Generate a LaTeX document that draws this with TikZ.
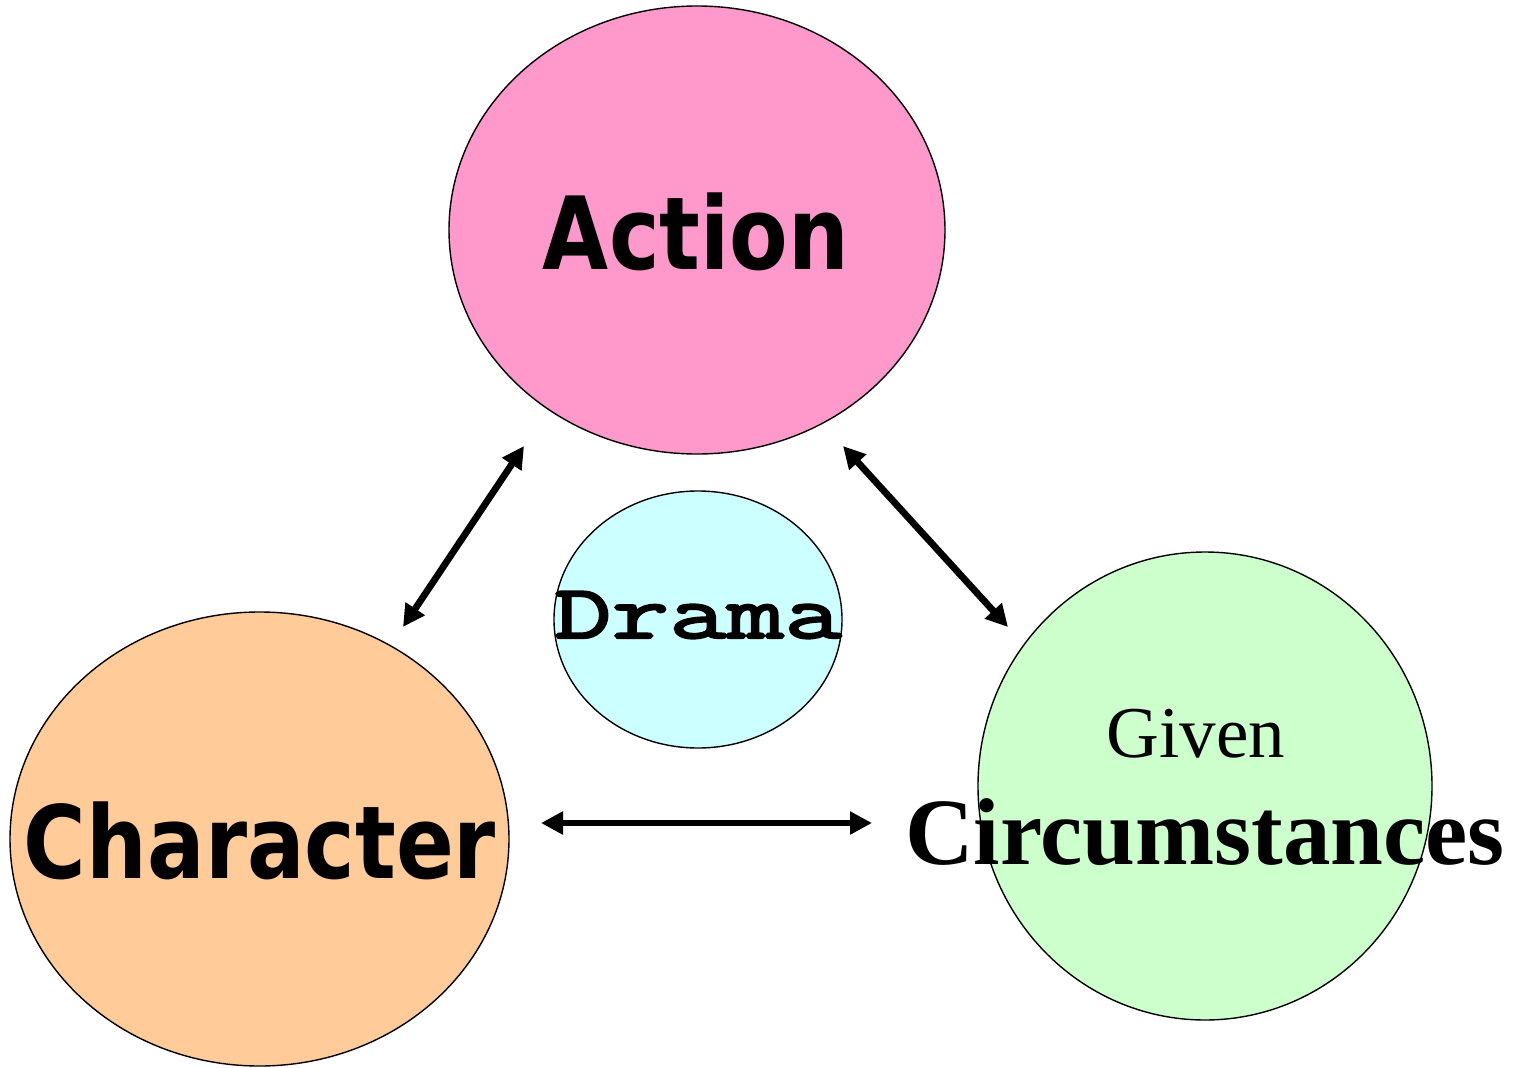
\documentclass[tikz,border=0pt]{standalone}
\usepackage{fontspec}
\usetikzlibrary{shapes.geometric,arrows.meta}
\newfontfamily\labelsans{DejaVu Sans}[FakeStretch=0.845]
\newfontfamily\dramafont{Latin Modern Mono}[FakeStretch=1.47,FakeBold=3]
\newfontfamily\labelserif{Liberation Serif}
\definecolor{actionpink}{HTML}{FF99CC}
\definecolor{dramacyan}{HTML}{CCFFFF}
\definecolor{charorange}{HTML}{FFCC99}
\definecolor{givengreen}{HTML}{CCFFCC}
\begin{document}
\begin{tikzpicture}[x=1pt,y=-1pt,
  blob/.style={ellipse,draw=black,line width=1.4pt,inner sep=0pt},
  word/.style={anchor=base,inner sep=0pt},
  link/.style={line width=6.8pt,{Triangle[length=22pt,width=22pt]}-{Triangle[length=22pt,width=22pt]}}]
\useasboundingbox (0,0) rectangle (1527,1068);

% the four ellipses
\node[blob,fill=actionpink,minimum width=496pt,minimum height=448pt] (action) at (697,230) {};
\node[blob,fill=dramacyan,minimum width=288pt,minimum height=257pt] (drama) at (698,619.5) {};
\node[blob,fill=charorange,minimum width=499pt,minimum height=454pt] (character) at (259.5,839) {};
\node[blob,fill=givengreen,minimum width=454pt,minimum height=468pt] (given) at (1205,786) {};

% labels
\node[word] (actiontext) at (696,269) {\labelsans\bfseries\fontsize{101}{110}\selectfont Action};
\node[word] (dramatext) at (698,638) {\dramafont\fontsize{76}{82}\selectfont Drama};
\node[word] (chartext) at (260,878) {\labelsans\bfseries\fontsize{101}{110}\selectfont Character};
\node[word] (giventext) at (1196,757) {\labelserif\fontsize{73}{80}\selectfont Given};
\node[word] (circtext) at (1205,864) {\labelserif\bfseries\fontsize{95}{100}\selectfont Circumstances};

% arrow ends
\coordinate (ca) at (403,627);
\coordinate (ac) at (524,446);
\coordinate (ag) at (843,446);
\coordinate (ga) at (1008,627);
\coordinate (cg) at (541,823);
\coordinate (gc) at (872,823);

\draw[link] (ca) -- (ac);
\draw[link] (ag) -- (ga);
\draw[link] (cg) -- (gc);
\end{tikzpicture}
\end{document}
